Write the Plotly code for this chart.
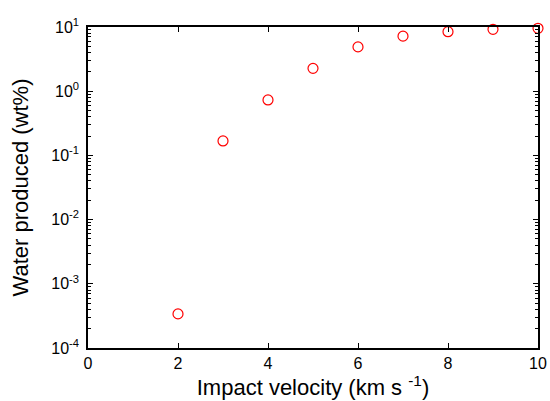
import plotly.graph_objects as go

velocity = [2, 3, 4, 5, 6, 7, 8, 9, 10]
water = [3.4e-4, 0.168, 0.73, 2.27, 4.9, 7.2, 8.45, 9.2, 9.55]

x_ticks = [0, 2, 4, 6, 8, 10]
y_tickvals = [1e-4, 1e-3, 1e-2, 1e-1, 1e0, 1e1]
y_ticktext = ["10<sup>-4</sup>", "10<sup>-3</sup>", "10<sup>-2</sup>",
              "10<sup>-1</sup>", "10<sup>0</sup>", "10<sup>1</sup>"]

fig = go.Figure(go.Scatter(
    x=velocity, y=water, mode="markers",
    marker=dict(symbol="circle-open", size=10, color="#ff0000",
                line=dict(width=1.2, color="#ff0000")),
    cliponaxis=False,
))

font = dict(family="Liberation Sans, Arial, sans-serif", color="black")

fig.update_layout(
    width=550, height=401,
    margin=dict(l=88, r=12, t=27, b=53),
    paper_bgcolor="white", plot_bgcolor="white",
    showlegend=False,
    font=font,
)
fig.update_xaxes(
    range=[0, 10], tickvals=x_ticks, ticks="inside", ticklen=5,
    tickcolor="black", linecolor="black", linewidth=1.5, mirror="ticks",
    showgrid=False, zeroline=False, tickfont=dict(size=16, **font),
    automargin=False,
    title=dict(text="Impact velocity (km s <sup>-1</sup>)", font=dict(size=22, **font), standoff=2),
)
fig.update_yaxes(
    type="log", range=[-4, 1], tickvals=y_tickvals, ticktext=y_ticktext,
    ticks="inside", ticklen=5, tickcolor="black", linecolor="black",
    linewidth=1.5, mirror="ticks", showgrid=False, zeroline=False,
    tickfont=dict(size=16, **font), ticklabelstandoff=4,
    automargin=False,
    minor=dict(ticks="inside", ticklen=3, tickcolor="black", showgrid=False,
               tickvals=[m * 10**e for e in range(-4, 1) for m in range(2, 10)]),
    title=dict(text="Water produced (wt%)", font=dict(size=22, **font), standoff=17),
)

fig.write_html("out.html", config={"displayModeBar": False},
               post_script="document.body.style.margin='0';document.body.style.overflow='hidden';")
